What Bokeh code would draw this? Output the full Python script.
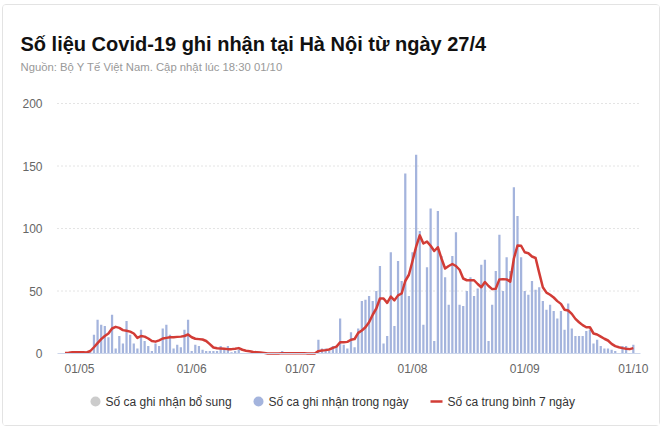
import pandas as pd
from bokeh.plotting import figure
from bokeh.models import Range1d, FixedTicker, LinearAxis
from bokeh.embed import file_html
from bokeh.resources import INLINE
from bokeh.core.properties import value

# ---------------- data ----------------
start_date = "2021-04-27"

# daily cases recorded (Số ca ghi nhận trong ngày), 27/4 .. 01/10
cases = [
    0, 0, 0, 2, 0, 1, 0, 1,
    15, 27, 23, 22, 13, 31, 4, 14, 8, 26, 15, 8, 4, 19, 10, 6, 2, 8, 6, 20, 23, 15, 4, 7, 5, 19, 27,
    2, 7, 6, 3, 2, 2, 2, 2, 6, 3, 6, 1, 2, 3,
    0, 0, 0, 0, 0, 0, 0, 0, 0, 0, 0,
    2,
    0, 0, 0, 0, 0, 0, 0, 0, 0,
    11, 4, 4, 2, 6, 5, 28, 7, 4, 17, 5, 20,
    42, 43, 46, 42, 50, 70, 8, 14, 81, 22, 74, 58, 144, 46, 81, 159, 98, 23, 69, 116,
    10, 114, 78, 61, 39, 78, 97, 39, 38, 50, 61, 46, 52, 71, 75, 10, 39, 66, 95, 50, 77, 66, 133, 110, 77, 50, 47,
    58, 51, 53, 42, 35, 39, 34, 28, 34, 19, 40, 20, 14, 14, 14, 18, 19, 8, 11, 6, 4, 4, 3, 2, 0, 6, 6, 0, 7,
]

# 7-day average (Số ca trung bình 7 ngày)
avg7 = [
    0.5, 0.7, 1, 1, 1, 1, 0.8, 2,
    5, 8.3, 11.5, 14, 16, 20, 21.3, 20.5, 18.7, 18.2, 17.5, 16,
    12.5, 14, 13.5, 12, 10, 9.5, 10.5, 12, 12.5, 13, 13, 13.3, 13.5, 14, 15.2,
    13, 11.8, 11.5, 11.2, 10, 7.5, 4.8, 4.2, 4, 3.8, 3.5, 3.5, 3.8, 4.3,
    3, 2.2, 1.8, 1.2, 1, 0.8, 0.5,
    0, 0, 0, 0, 0.3, 0.3, 0.3, 0.3, 0.3, 0.3, 0.3, 0, 0, 0,
    1.9, 2.4, 2.7, 3.2, 4.5, 5.5, 9, 9, 9.3, 11, 11.6, 16.5,
    18.4, 21, 25, 31, 36, 44, 44, 40.5, 45.5, 42.5, 46.5, 48, 58, 63, 74, 85.5, 94.5, 88, 89.5, 86.2,
    82, 85, 76, 68, 70, 71.6, 70, 67, 60, 58.6, 58.6, 58.6, 55.6, 53, 57.2, 54, 51.5, 51.8, 59.3, 59.5,
    59.3, 57.5, 76, 86.4, 86.2, 81, 80.2,
    77.6, 76.4, 64.5, 53, 48.7, 47, 44.8, 41.9, 39.7, 35, 34.4, 31.7, 27.7, 25, 22.7, 21, 21, 16, 15.2,
    13.5, 11.8, 10.4, 7.7, 5.9, 5, 4.3, 3.8, 3.5, 4.3,
]

y_ticks = [0, 50, 100, 150, 200]
title_text = "Số liệu Covid-19 ghi nhận tại Hà Nội từ ngày 27/4"
subtitle_text = "Nguồn: Bộ Y Tế Việt Nam. Cập nhật lúc 18:30 01/10"
legend_labels = ["Số ca ghi nhận bổ sung", "Số ca ghi nhận trong ngày", "Số ca trung bình 7 ngày"]

# ---------------- derived ----------------
dates = pd.date_range(start_date, periods=len(cases), freq="D")
idx = list(range(len(dates)))
tick_idx = [i for i, d in enumerate(dates) if d.day == 1]
tick_labels = {i: dates[i].strftime("%d/%m") for i in tick_idx}

# ---------------- layout (page pixels) ----------------
CANVAS_X, CANVAS_Y, CANVAS_W, CANVAS_H = 3, 5, 658, 422
DAY0_PX, PX_PER_DAY = 64.5, 3.62        # page x of first day, spacing
ZERO_PX, PX_PER_UNIT = 353, 1.25         # page y of value 0, scale
PLOT_L, PLOT_R = 57, 640                 # plotting area in page x


def dx(px):
    return (px - DAY0_PX) / PX_PER_DAY


def dy(py):
    return (ZERO_PX - py) / PX_PER_UNIT


X0, X1 = dx(CANVAS_X), dx(CANVAS_X + CANVAS_W)
Y0, Y1 = dy(CANVAS_Y + CANVAS_H), dy(CANVAS_Y)

FONT = "Liberation Sans"
BAR_C = "#a4b4dd"
LINE_C = "#d23c36"
GRAY_C = "#cccccc"

p = figure(
    width=CANVAS_W, height=CANVAS_H, output_backend="svg", toolbar_location=None,
    x_range=Range1d(X0, X1), y_range=Range1d(Y0, Y1),
    x_axis_location=None, y_axis_location=None, title=None,
    min_border=0, min_border_left=0, min_border_right=0, min_border_top=0, min_border_bottom=0,
    background_fill_color="white", border_fill_color="white",
    styles={"border": "1px solid #e3e3e3", "border-radius": "4px",
            "margin-left": "2px", "margin-top": "4px"},
)
p.outline_line_color = None
p.xgrid.visible = False
p.ygrid.visible = False

# y axis (real axis, fixed at the plot's left edge)
yax = LinearAxis(fixed_location=dx(PLOT_L), ticker=FixedTicker(ticks=y_ticks))
yax.bounds = (0, 200)
yax.axis_line_color = None
yax.major_tick_line_color = None
yax.minor_tick_line_color = None
yax.major_tick_out = 0
yax.major_tick_in = 0
yax.major_label_standoff = 15
yax.major_label_text_font = FONT
yax.major_label_text_font_size = "12px"
yax.major_label_text_color = "#666666"
p.add_layout(yax, "left")

# dotted horizontal grid lines within the plotting area
grid_vals = y_ticks[1:]
p.segment(x0=[dx(PLOT_L)] * len(grid_vals), x1=[dx(PLOT_R)] * len(grid_vals),
          y0=grid_vals, y1=grid_vals, line_color="#c8c8c8", line_dash="1 3", line_width=1)

# bars
p.vbar(x=idx, top=cases, width=0.62, bottom=0, fill_color=BAR_C, line_color=None)

# x axis (real axis, fixed at y = 0)
xax = LinearAxis(fixed_location=0, ticker=FixedTicker(ticks=tick_idx))
xax.major_label_overrides = tick_labels
xax.bounds = (dx(PLOT_L), dx(PLOT_R))
xax.axis_line_color = "#ccd6eb"
xax.axis_line_width = 1
xax.major_tick_line_color = None
xax.minor_tick_line_color = None
xax.major_tick_out = 0
xax.major_tick_in = 0
xax.major_label_standoff = 8
xax.major_label_text_font = FONT
xax.major_label_text_font_size = "12px"
xax.major_label_text_color = "#666666"
p.add_layout(xax, "below")

# 7-day average line
p.line(idx, avg7, line_color=LINE_C, line_width=2.5, line_join="round")

# legend
ly = dy(401)
p.scatter(x=[dx(95), dx(258)], y=[ly, ly], size=10, marker="circle",
          fill_color=[GRAY_C, BAR_C], line_color=None)
p.segment(x0=[dx(430)], y0=[ly], x1=[dx(442)], y1=[ly], line_color=LINE_C, line_width=2.5)
p.text(x=[dx(105), dx(268), dx(447)], y=[ly] * 3, text=legend_labels,
       text_align="left", text_baseline="middle", text_font=value(FONT),
       text_font_size="12px", text_color="#333333")

# titles
p.text(x=[dx(20)], y=[dy(43.5)], text=[title_text], text_align="left",
       text_baseline="alphabetic", text_font=value(FONT), text_font_size="20px",
       text_font_style="bold", text_color="#111111")
p.text(x=[dx(20)], y=[dy(66.5)], text=[subtitle_text], text_align="left",
       text_baseline="alphabetic", text_font=value(FONT), text_font_size="11.3px",
       text_color="#999999")

open("out.html", "w").write(file_html(p, INLINE))
